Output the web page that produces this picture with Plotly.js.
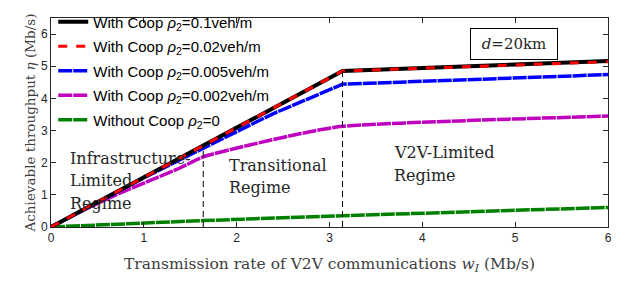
<!DOCTYPE html>
<html>
<head>
<meta charset="utf-8">
<script src="https://cdn.plot.ly/plotly-3.0.1.min.js"></script>
<style>html,body{margin:0;padding:0;background:#fff}#chart{width:633px;height:282px}</style>
</head>
<body>
<div id="chart"></div>
<script>
// Data
var xBlack = [0, 3.14, 6];
var yBlack = [0, 4.85, 5.16];
var xRed = [0, 3.14, 6];
var yRed = [0, 4.85, 5.14];
var xBlue = [0, 1.0, 1.5, 2.39, 3.14, 6];
var yBlue = [0, 1.53, 2.25, 3.52, 4.44, 4.74];
var xMagenta = [0, 0.35, 0.7, 1.07, 1.4, 1.64, 2.14, 2.68, 3.14, 6];
var yMagenta = [0, 0.52, 1.0, 1.45, 1.85, 2.18, 2.55, 2.9, 3.13, 3.45];
var xGreen = [0, 1.64, 3.14, 6];
var yGreen = [0, 0.2, 0.35, 0.61];
var boundaryX = [1.64, 3.14];
var boundaryTop = [2.53, 4.85];
var seriesNames = [
  'With Coop <i>ρ</i><sub>2</sub>=0.1veh/m',
  'With Coop <i>ρ</i><sub>2</sub>=0.02veh/m',
  'With Coop <i>ρ</i><sub>2</sub>=0.005veh/m',
  'With Coop <i>ρ</i><sub>2</sub>=0.002veh/m',
  'Without Coop <i>ρ</i><sub>2</sub>=0'
];
var xTicks = [0, 1, 2, 3, 4, 5, 6];
var yTicks = [0, 1, 2, 3, 4, 5, 6];

var traces = [];
traces.push({x: xGreen, y: yGreen, mode: 'lines', name: seriesNames[4], legendrank: 5, legendgroup: 'g5',
  line: {color: '#008000', width: 3.5, dash: '14px,1px'}});
traces.push({x: xMagenta, y: yMagenta, mode: 'lines', name: seriesNames[3], legendrank: 4, legendgroup: 'g4',
  line: {color: '#bf00bf', width: 3.5, dash: '14px,1px', shape: 'spline', smoothing: 0.6}});
traces.push({x: xBlue, y: yBlue, mode: 'lines', name: seriesNames[2], legendrank: 3, legendgroup: 'g3',
  line: {color: '#0000ff', width: 3.5, dash: '14px,1px'}});
traces.push({x: xBlack, y: yBlack, mode: 'lines', name: seriesNames[0], legendrank: 1, legendgroup: 'g1',
  line: {color: '#000000', width: 4}});
traces.push({x: xRed, y: yRed, mode: 'lines', name: seriesNames[1], legendrank: 2, legendgroup: 'g2',
  line: {color: '#ff0000', width: 3, dash: '9px,9px'}});
for (var i = 0; i < boundaryX.length; i++) {
  traces.push({x: [boundaryX[i], boundaryX[i]], y: [0, boundaryTop[i]], mode: 'lines', showlegend: false,
    hoverinfo: 'skip', line: {color: '#000000', width: 1, dash: '6px,4px'}});
}

var serif = 'DejaVu Serif, serif';
function lbl(text, x, y) {
  return {x: x, y: y, xref: 'x', yref: 'y', text: text, showarrow: false, xanchor: 'left', yanchor: 'middle',
    font: {family: serif, size: 16, color: '#262626'}};
}
var annotations = [
  lbl('Infrastructure-', 0.18, 2.13),
  lbl('Limited', 0.18, 1.46),
  lbl('Regime', 0.18, 0.73),
  lbl('Transitional', 1.90, 1.91),
  lbl('Regime', 1.90, 1.23),
  lbl('V2V-Limited', 3.67, 2.33),
  lbl('Regime', 3.67, 1.59),
  {x: 4.99, y: 5.70, xref: 'x', yref: 'y', text: '<i>d</i>=20km', showarrow: false,
    xanchor: 'center', yanchor: 'middle', width: 80, height: 24, borderpad: 3,
    bordercolor: '#000000', borderwidth: 1, bgcolor: '#ffffff',
    font: {family: serif, size: 15, color: '#262626'}}
];

var axisCommon = {
  showline: true, linecolor: '#262626', linewidth: 1, mirror: 'ticks',
  ticks: 'inside', ticklen: 5, tickcolor: '#262626', showgrid: false, zeroline: false,
  tickfont: {family: 'Liberation Sans, Arial, sans-serif', size: 12, color: '#262626'}
};

var layout = {
  width: 633, height: 282,
  margin: {l: 51, r: 25, t: 5, b: 55},
  paper_bgcolor: '#ffffff', plot_bgcolor: '#ffffff',
  showlegend: true,
  legend: {x: 0.004, y: 1.06, xanchor: 'left', yanchor: 'top', bgcolor: 'rgba(255,255,255,0)',
    borderwidth: 0, tracegroupgap: 2, traceorder: 'grouped',
    font: {family: 'Liberation Sans, Arial, sans-serif', size: 15, color: '#000000'}},
  xaxis: Object.assign({}, axisCommon, {range: [0, 6], tickvals: xTicks, ticktext: xTicks.map(String),
    title: {text: 'Transmission rate of V2V communications <i>w<sub>I</sub></i> (Mb/s)', standoff: 13,
      font: {family: serif, size: 15.5, color: '#404040'}}}),
  yaxis: Object.assign({}, axisCommon, {range: [0, 6.5], tickvals: yTicks, ticktext: yTicks.map(String),
    title: {text: 'Achievable throughput <i>η</i> (Mb/s)', standoff: 2,
      font: {family: serif, size: 13.5, color: '#404040'}}}),
  annotations: annotations
};

Plotly.newPlot('chart', traces, layout, {displayModeBar: false, staticPlot: true});
</script>
</body>
</html>
